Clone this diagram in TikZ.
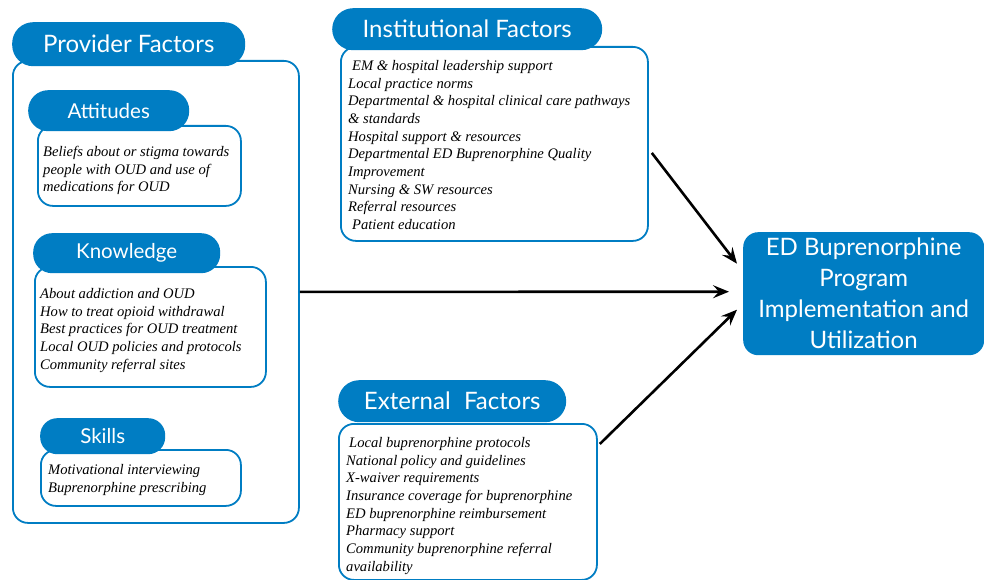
\documentclass[tikz,border=0pt]{standalone}
\usepackage{fontspec}
\setmainfont{Liberation Serif}
\newfontfamily\headfont{Lato}
\usetikzlibrary{arrows.meta,positioning}

\definecolor{oudblue}{RGB}{0,125,195}

\tikzset{
  panel/.style={draw=oudblue, line width=1.8pt, rounded corners=15pt, fill=white,
    anchor=north west, inner sep=0pt},
  pill/.style={fill=oudblue, rounded corners=21pt, text=white, anchor=north west,
    inner sep=0pt},
  items/.style={font=\fontsize{14.6}{17.7}\selectfont\itshape, align=left,
    anchor=north west, inner sep=0pt},
  flow/.style={-{Stealth[length=16pt,width=13pt,inset=6pt]}, line width=2.6pt},
}

\begin{document}
\begin{tikzpicture}[x=1pt, y=-1pt]
    \useasboundingbox (0,0) rectangle (984,580);
    % Panels
    \node[panel, minimum width=286pt, minimum height=462pt] (provbox) at (12,60) {}; %
    \node[panel, minimum width=203pt, minimum height=80pt] (attbox) at (37,125) {}; %
    \node[panel, minimum width=231pt, minimum height=120pt] (knowbox) at (34,266) {}; %
    \node[panel, minimum width=200pt, minimum height=56pt] (skillbox) at (40,449) {}; %
    \node[panel, minimum width=307pt, minimum height=194pt] (instbox) at (340,46) {}; %
    \node[panel, minimum width=258pt, minimum height=156pt] (extbox) at (338,423) {}; %
    % Headers
    \node[pill, minimum width=233pt, minimum height=44pt,
      font=\headfont\fontsize{24}{26}\selectfont] (prov) at (12,22) {Provider Factors}; %
    \node[pill, minimum width=161pt, minimum height=41pt, rounded corners=20pt,
      font=\headfont\fontsize{20.5}{22}\selectfont] (att) at (28,90) {Attitudes}; %
    \node[pill, minimum width=187pt, minimum height=40pt, rounded corners=19pt,
      font=\headfont\fontsize{20.5}{22}\selectfont] (know) at (33,233) {Knowledge}; %
    \node[pill, minimum width=125pt, minimum height=36pt, rounded corners=17pt,
      font=\headfont\fontsize{20.5}{22}\selectfont] (skill) at (40,418) {Skills}; %
    \node[pill, minimum width=270pt, minimum height=42pt,
      font=\headfont\fontsize{24}{26}\selectfont] (inst) at (332,8) {Institutional Factors}; %
    \node[pill, minimum width=228pt, minimum height=42pt,
      font=\headfont\fontsize{24}{26}\selectfont] (ext) at (338,380) {External\hspace{0.3em} Factors}; %
    \node[pill, minimum width=241pt, minimum height=123pt, rounded corners=15pt,
      align=center, font=\headfont\fontsize{24}{31}\selectfont] (edbox) at (743,232)
      {ED Buprenorphine\\Program\\Implementation and\\Utilization}; %
    % Items
    \node[items] (atttext) at (43,146) {Beliefs about or stigma towards\\
      people with OUD and use of\\medications for OUD}; %
    \node[items] (knowtext) at (40,288) {About addiction and OUD\\
      How to treat opioid withdrawal\\Best practices for OUD treatment\\
      Local OUD policies and protocols\\Community referral sites}; %
    \node[items] (skilltext) at (48,464) {Motivational interviewing\\
      Buprenorphine prescribing}; %
    \node[items] (insttext) at (348,60) {\hspace{4pt}EM \& hospital leadership support\\
      Local practice norms\\Departmental \& hospital clinical care pathways\\
      \& standards\\Hospital support \& resources\\
      Departmental ED Buprenorphine Quality\\Improvement\\
      Nursing \& SW resources\\Referral resources\\\hspace{4pt}Patient education}; %
    \node[items] (exttext) at (346,437) {\hspace{3pt}Local buprenorphine protocols\\
      National policy and guidelines\\X-waiver requirements\\
      Insurance coverage for buprenorphine\\ED buprenorphine reimbursement\\
      Pharmacy support\\Community buprenorphine referral\\availability}; %
    % Edges
    \draw[flow] (provbox.east) -- ([xshift=-14pt,yshift=2pt]edbox.west) ; %
    \draw[flow] ([xshift=3pt,yshift=-9pt]instbox.east) -- ([xshift=-6pt,yshift=30pt]edbox.west) ; %
    \draw[flow] ([xshift=2pt,yshift=-21pt]extbox.north east) -- ([xshift=-6pt,yshift=-16pt]edbox.west) ; %
  \end{tikzpicture}
\end{document}
